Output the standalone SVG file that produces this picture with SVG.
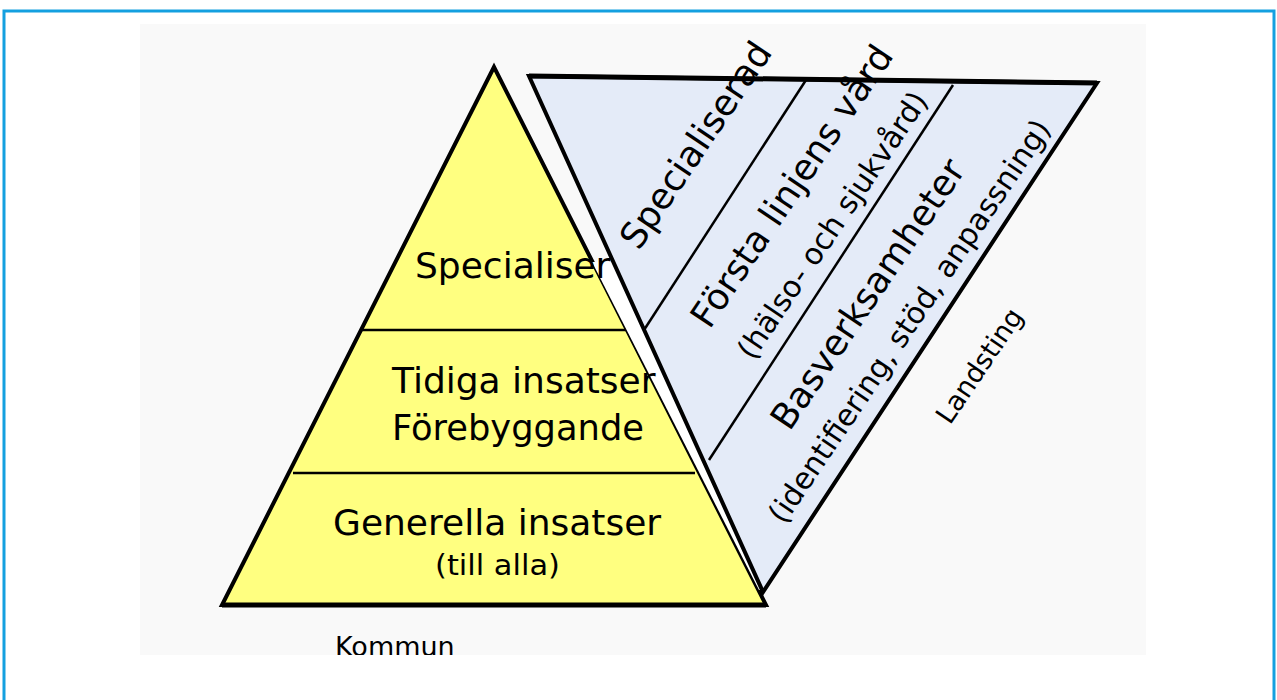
<svg xmlns="http://www.w3.org/2000/svg" width="1277" height="700" viewBox="0 0 1277 700">
  <defs>
    <style>
      .t { font-family: "DejaVu Sans", "Liberation Sans", sans-serif; fill: #000; }
      .big { font-size: 36px; }
      .sub { font-size: 28px; }
      .lbl { font-family: "DejaVu Sans", "Liberation Sans", sans-serif; font-size: 27px; fill: #000; }
      .edge { stroke: #000; stroke-width: 4; stroke-linejoin: miter; }
      .div { stroke: #000; stroke-width: 2.5; fill: none; }
    </style>
    <clipPath id="clipBg">
      <rect x="140" y="24" width="1006" height="631"/>
    </clipPath>
  </defs>

  <rect x="4" y="11" width="1270" height="720" fill="#ffffff" stroke="#14a0e0" stroke-width="3"/>
  <rect x="140" y="24" width="1006" height="631" fill="#f9f9f9"/>

  <g id="kommun-pyramid">
    <polygon class="edge" points="494,67 222,605 766,605" fill="#ffff80"/>
    <line x1="222" y1="605" x2="766" y2="605" stroke="#000" stroke-width="5"/>
    <line class="div" x1="360" y1="330" x2="627" y2="330"/>
    <line class="div" x1="293" y1="473" x2="695" y2="473"/>
    <text class="t big" x="392" y="440" textLength="252" lengthAdjust="spacingAndGlyphs">Förebyggande</text>
    <text class="t big" x="333" y="535">Generella insatser</text>
    <text class="t sub" x="435" y="575" textLength="125" lengthAdjust="spacingAndGlyphs">(till alla)</text>
  </g>

  <g id="gap">
    <polygon points="592,262 611,262 762,590 759,590" fill="#ffffff"/>
  </g>

  <g id="pyramid-overflow-text">
    <text class="t big" x="415" y="278">Specialiser</text>
    <text class="t big" x="392" y="393">Tidiga insatser</text>
  </g>

  <g id="landsting-funnel">
    <polygon class="edge" points="529,76 1097,83 763,592" fill="#e4ebf8"/>
    <line x1="529" y1="76" x2="1097" y2="83" stroke="#000" stroke-width="5"/>
    <line class="div" x1="806" y1="80" x2="644" y2="330"/>
    <line class="div" x1="953" y1="85" x2="709" y2="460"/>
    <text class="t big" text-anchor="middle" transform="translate(706,152) rotate(-56)">Specialiserad</text>
    <text class="t big" text-anchor="middle" transform="translate(802,193) rotate(-56)">Första linjens vård</text>
    <text class="t" font-size="30" text-anchor="middle" transform="translate(841,231) rotate(-56)">(hälso- och sjukvård)</text>
    <text class="t big" text-anchor="middle" transform="translate(878,301) rotate(-56)">Basverksamheter</text>
    <text class="t" font-size="30" text-anchor="middle" transform="translate(918,327) rotate(-56)">(identifiering, stöd, anpassning)</text>
  </g>

  <g id="labels">
    <text class="lbl" font-size="26" text-anchor="middle" transform="translate(987,371) rotate(-56)">Landsting</text>
    <g clip-path="url(#clipBg)">
      <text class="lbl" font-size="28.5" x="335" y="656">Kommun</text>
    </g>
  </g>
</svg>
